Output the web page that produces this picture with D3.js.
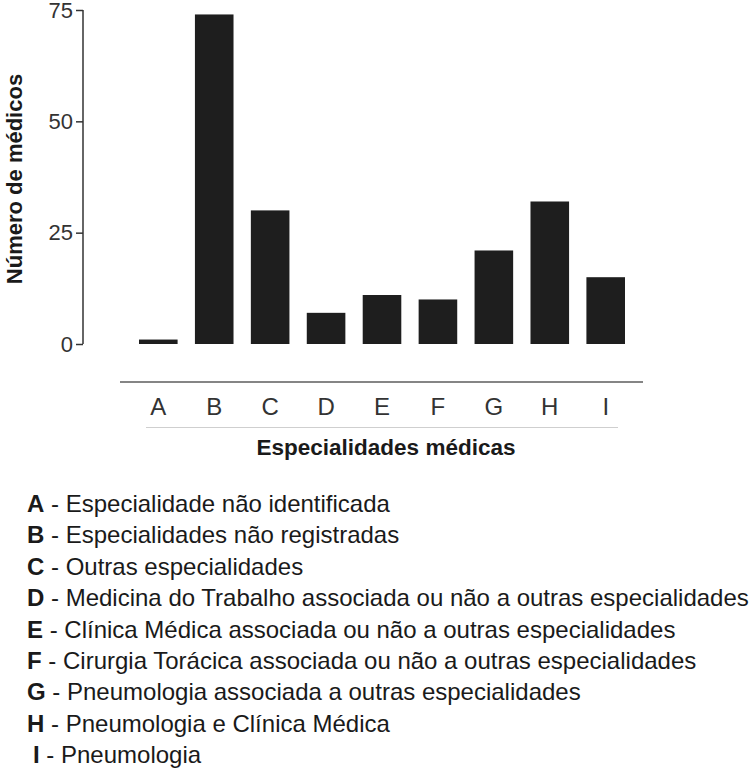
<!DOCTYPE html>
<html>
<head>
<meta charset="utf-8">
<script src="https://cdn.jsdelivr.net/npm/d3@7"></script>
<style>
  body { margin: 0; background: #fff; }
  svg { display: block; font-family: "Liberation Sans", Arial, sans-serif; }
</style>
</head>
<body>
<svg id="chart" width="750" height="770"></svg>
<script>
const categories = ["A", "B", "C", "D", "E", "F", "G", "H", "I"];
const values = [1, 74, 30, 7, 11, 10, 21, 32, 15];
const yTicks = [0, 25, 50, 75];
const legendLabels = [
  "Especialidade não identificada",
  "Especialidades não registradas",
  "Outras especialidades",
  "Medicina do Trabalho associada ou não a outras especialidades",
  "Clínica Médica associada ou não a outras especialidades",
  "Cirurgia Torácica associada ou não a outras especialidades",
  "Pneumologia associada a outras especialidades",
  "Pneumologia e Clínica Médica",
  "Pneumologia"
];
const yTitle = "Número de médicos";
const xTitle = "Especialidades médicas";

const svg = d3.select("#chart");

const x = d3.scaleBand().domain(categories).range([139, 625]).paddingInner(0.31).paddingOuter(0);
const y = d3.scaleLinear().domain([0, 75]).range([344, 10]);

// bars
svg.append("g").selectAll("rect").data(values).join("rect")
  .attr("x", (d, i) => x(categories[i]))
  .attr("width", x.bandwidth())
  .attr("y", d => y(d))
  .attr("height", d => y(0) - y(d))
  .attr("fill", "#1e1e1e");

// y axis
const yAxis = svg.append("g").attr("transform", "translate(83,0)")
  .call(d3.axisLeft(y).tickValues(yTicks).tickSize(7).tickPadding(3));
yAxis.select(".domain").attr("stroke", "#333").attr("stroke-width", 1.5).attr("d", `M0,${y(75)}V${y(0)}`);
yAxis.selectAll(".tick line").attr("stroke", "#333").attr("stroke-width", 1.5);
yAxis.selectAll(".tick text").attr("font-size", 22).attr("fill", "#333").attr("font-family", "Liberation Sans, Arial, sans-serif");

// y title
svg.append("text")
  .attr("transform", "translate(22,179) rotate(-90)")
  .attr("text-anchor", "middle")
  .attr("font-size", 22)
  .attr("font-weight", "bold")
  .attr("fill", "#1a1a1a")
  .text(yTitle);

// x axis (separated)
svg.append("line").attr("x1", 120).attr("x2", 643).attr("y1", 382).attr("y2", 382)
  .attr("stroke", "#858585").attr("stroke-width", 2);
const xAxis = svg.append("g").attr("transform", "translate(0,382)")
  .call(d3.axisBottom(x).tickSize(0).tickPadding(16));
xAxis.select(".domain").remove();
xAxis.selectAll(".tick text").attr("font-size", 24).attr("fill", "#333").attr("font-family", "Liberation Sans, Arial, sans-serif");

svg.append("line").attr("x1", 146).attr("x2", 618).attr("y1", 427.5).attr("y2", 427.5)
  .attr("stroke", "#cfcfcf").attr("stroke-width", 1);

svg.append("text")
  .attr("x", 386).attr("y", 455)
  .attr("text-anchor", "middle")
  .attr("font-size", 22.5)
  .attr("font-weight", "bold")
  .attr("fill", "#1a1a1a")
  .text(xTitle);

// legend
const legend = svg.append("g");
const rowY = d3.scalePoint().domain(categories).range([512, 763]);
const rows = legend.selectAll("text").data(categories).join("text")
  .attr("x", d => d === "I" ? 33 : 27)
  .attr("y", d => rowY(d))
  .attr("font-size", 24)
  .attr("fill", "#1a1a1a");
rows.append("tspan").attr("font-weight", "bold").text(d => d);
rows.append("tspan").text((d, i) => " - " + legendLabels[i]);
</script>
</body>
</html>
